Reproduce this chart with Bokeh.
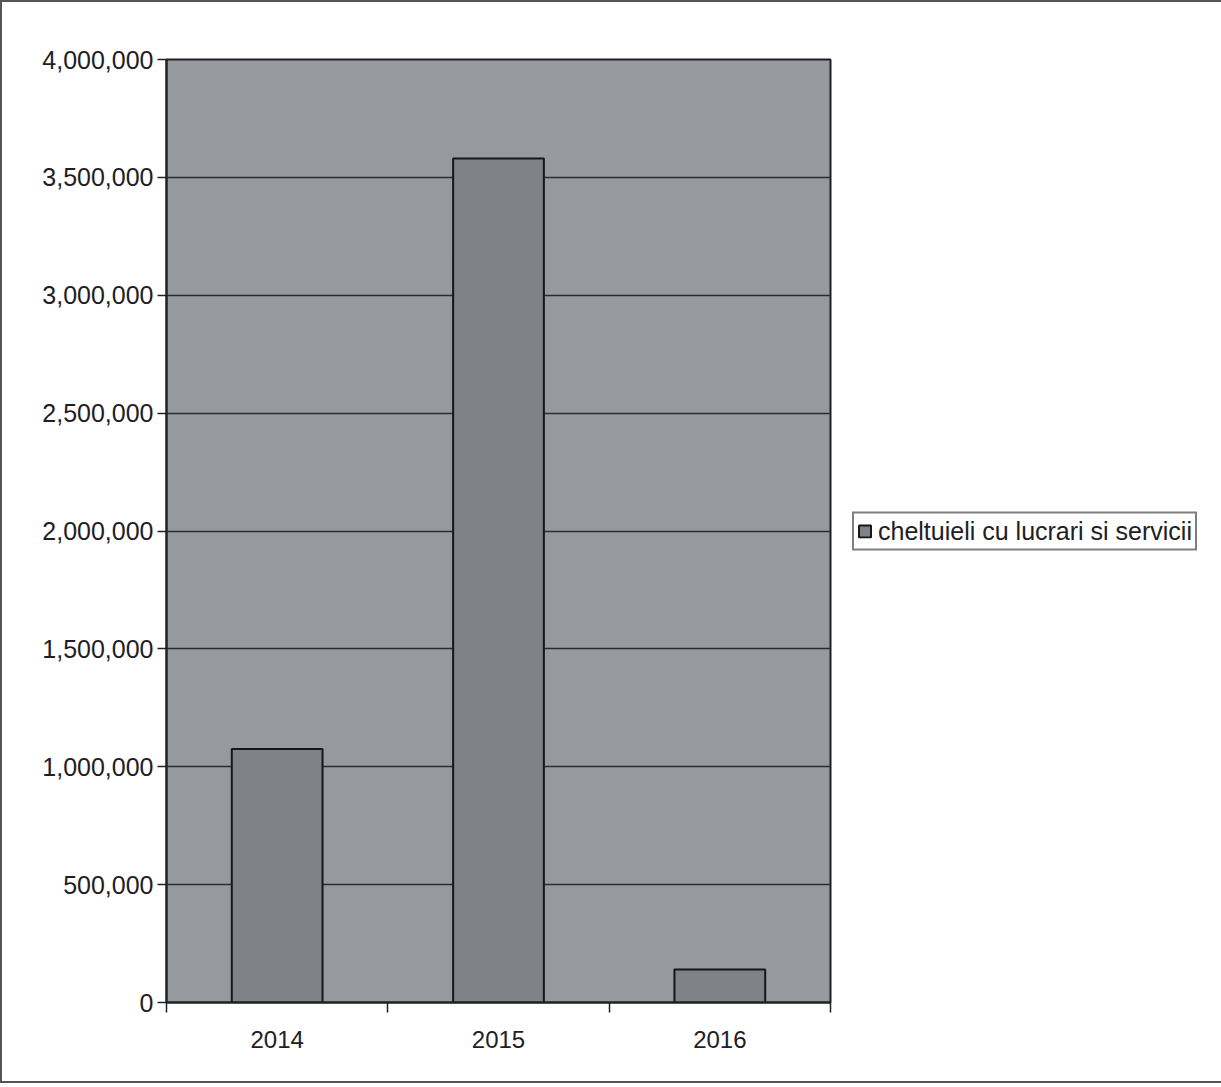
from bokeh.plotting import figure
from bokeh.models import (FixedTicker, NumeralTickFormatter, Range1d, Legend,
                          LegendItem, ColumnDataSource)
from bokeh.embed import file_html
from bokeh.resources import INLINE

years = ["2014", "2015", "2016"]
values = [1075000, 3580000, 140000]
series_name = "cheltuieli cu lucrari si servicii"
y_ticks = [0, 500000, 1000000, 1500000, 2000000, 2500000, 3000000, 3500000, 4000000]

xpos = [i + 0.5 for i in range(len(years))]
src = ColumnDataSource(dict(x=xpos, top=values, year=years))

FONT = "Liberation Sans"
DARK = "#1e2024"

p = figure(frame_width=664, frame_height=943, output_backend="svg",
           toolbar_location=None,
           x_range=Range1d(0, len(years)), y_range=Range1d(0, 4000000),
           min_border_left=164, min_border_right=0, min_border_top=57,
           min_border_bottom=79,
           background_fill_color="#96999e", border_fill_color="#ffffff",
           outline_line_color=DARK, outline_line_width=2,
           styles={"border-top": "2px solid #555", "border-left": "2px solid #555",
                   "border-bottom": "2px solid #555"})

r = p.vbar(x="x", top="top", width=0.41, source=src, fill_color="#7f8287",
           line_color="#15171a", line_width=2)

# x axis: labels at centers, ticks at category boundaries
xa = p.xaxis[0]
xa.ticker = FixedTicker(ticks=xpos, minor_ticks=list(range(len(years) + 1)))
xa.major_label_overrides = {x: y for x, y in zip(xpos, years)}
xa.major_tick_out = 0
xa.major_tick_in = 0
xa.minor_tick_out = 10
xa.minor_tick_in = 0
xa.minor_tick_line_color = DARK
xa.minor_tick_line_width = 1.5
xa.axis_line_color = DARK
xa.axis_line_width = 2
xa.major_label_standoff = 18
xa.major_label_text_font = FONT
xa.major_label_text_font_size = "24px"
xa.major_label_text_color = DARK

ya = p.yaxis[0]
ya.ticker = FixedTicker(ticks=y_ticks)
ya.formatter = NumeralTickFormatter(format="0,0")
ya.major_tick_out = 9
ya.major_tick_in = 0
ya.minor_tick_out = 0
ya.minor_tick_in = 0
ya.major_tick_line_color = DARK
ya.major_tick_line_width = 1.5
ya.axis_line_color = DARK
ya.axis_line_width = 2
ya.major_label_standoff = 4
ya.major_label_text_font = FONT
ya.major_label_text_font_size = "25px"
ya.major_label_text_color = DARK

p.xgrid.grid_line_color = None
p.ygrid.grid_line_color = "#2a2d33"
p.ygrid.grid_line_width = 1.5

legend = Legend(items=[LegendItem(label=series_name, renderers=[r])],
                location="center_left", orientation="vertical",
                label_text_font=FONT, label_text_font_size="25px",
                label_text_color=DARK, glyph_width=15, glyph_height=15,
                label_height=28, label_standoff=6, padding=3, margin=22, spacing=0,
                border_line_color="#000000", border_line_width=2,
                background_fill_color="#ffffff", background_fill_alpha=1.0)
p.add_layout(legend, "right")

open("out.html", "w").write(file_html(p, INLINE))
